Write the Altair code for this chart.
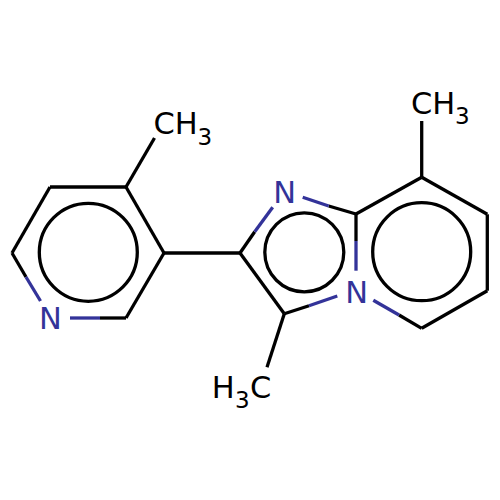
import altair as alt
import pandas as pd

BLACK = "#000000"
BLUE = "#333399"

# bonds
bx1 = [12, 26, 12, 50, 126, 164, 126, 100, 126, 164, 240, 254.7, 240, 284.3, 309, 284.3, 356, 328.7, 356, 356, 356, 421.7, 487.3, 487.3, 421.7, 399, 421.7]
by1 = [253, 277, 253, 187, 187, 253, 318, 318, 187, 253, 253, 231.7, 253, 313.7, 305.7, 313.7, 214, 206, 214, 241, 214, 177.3, 214.3, 290.7, 328.3, 315, 177.3]
bx2 = [26, 40.5, 50, 126, 164, 126, 100, 70, 154.5, 240, 254.7, 272.7, 284.3, 309, 337.3, 267, 328.7, 302.7, 356, 356, 421.7, 487.3, 487.3, 421.7, 399, 373.3, 421.7]
by2 = [277, 301, 187, 187, 253, 318, 318, 318, 138, 253, 231.7, 207.3, 313.7, 305.7, 296, 367.3, 206, 197.3, 241, 270.7, 177.3, 214.3, 290.7, 328.3, 315, 300.3, 121]
bc = [BLACK, BLUE, BLACK, BLACK, BLACK, BLACK, BLACK, BLUE, BLACK, BLACK, BLACK, BLUE, BLACK, BLACK, BLUE, BLACK, BLACK, BLUE, BLACK, BLUE, BLACK, BLACK, BLACK, BLACK, BLACK, BLUE, BLACK]

# aromatic circles
cx = [88.3, 304.3, 421.7]
cy = [252.3, 252.3, 251.7]
cs = [9604, 6241, 9604]

# atom labels
tx = [50.5, 284.7, 356.7, 153.4, 411, 211.8, 250]
ty = [329.3, 202.5, 302.7, 134, 113.5, 397.5, 397.5]
tt = ["N", "N", "N", "CH", "CH", "H", "C"]
tc = [BLUE, BLUE, BLUE, BLACK, BLACK, BLACK, BLACK]
ta = ["center", "center", "center", "left", "left", "left", "left"]

# subscripts
sx = [197.6, 455, 235]
sy = [144.5, 124, 408.3]
st = ["3", "3", "3"]

bonds = pd.DataFrame({"x": bx1, "y": by1, "x2": bx2, "y2": by2, "c": bc})
circles = pd.DataFrame({"x": cx, "y": cy, "s": cs})
labels = pd.DataFrame({"x": tx, "y": ty, "t": tt, "c": tc, "a": ta})
subs = pd.DataFrame({"x": sx, "y": sy, "t": st})

X = alt.X("x:Q", scale=alt.Scale(domain=[8, 492], nice=False, zero=False), axis=None)
Y = alt.Y("y:Q", scale=alt.Scale(domain=[492, 8], nice=False, zero=False), axis=None)

bond_layer = alt.Chart(bonds).mark_rule(strokeWidth=3.3).encode(
    x=X, y=Y, x2="x2:Q", y2="y2:Q", color=alt.Color("c:N", scale=None)
)
circle_layer = alt.Chart(circles).mark_point(
    shape="circle", filled=False, stroke=BLACK, strokeWidth=3.3, opacity=1
).encode(x=X, y=Y, size=alt.Size("s:Q", scale=None))


def text_layer(a):
    d = labels[labels["a"] == a]
    return alt.Chart(d).mark_text(
        font="DejaVu Sans", fontSize=30.5, align=a, baseline="alphabetic"
    ).encode(x=X, y=Y, text="t:N", color=alt.Color("c:N", scale=None))


sub_layer = alt.Chart(subs).mark_text(
    font="DejaVu Sans", fontSize=23, align="left", baseline="alphabetic", color=BLACK
).encode(x=X, y=Y, text="t:N")

chart = alt.layer(
    bond_layer, circle_layer, text_layer("center"), text_layer("left"), sub_layer
).properties(width=484, height=484, padding=0, background="white").configure_view(stroke=None)

chart.save("out.html", embed_options={"renderer": "svg", "actions": False})
